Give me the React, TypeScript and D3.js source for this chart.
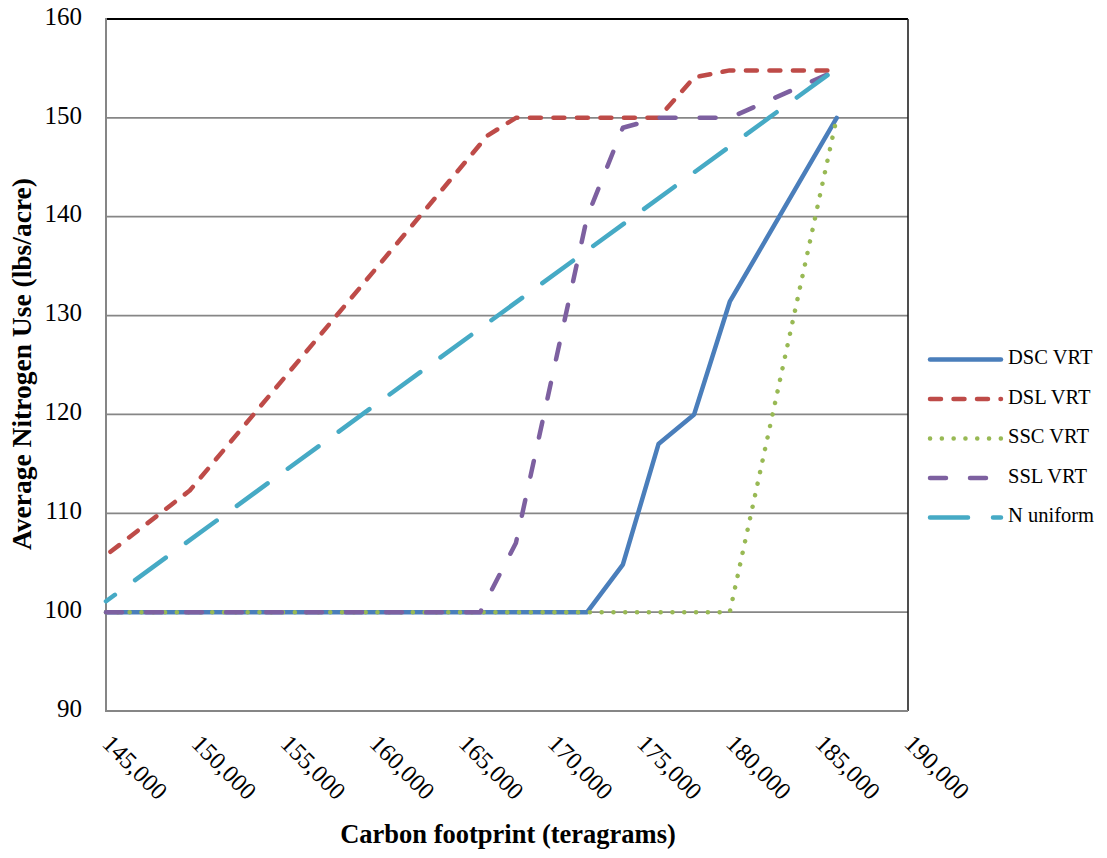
import React from 'react';
import * as d3 from 'd3';

const seriesNames = ['DSC VRT', 'DSL VRT', 'SSC VRT', 'SSL VRT', 'N uniform'];

const dscX = [145000, 172000, 174000, 176000, 178000, 180000, 186000];
const dscY = [100, 100, 104.8, 117, 120, 131.4, 150];

const dslX = [145250, 149700, 166400, 168000, 176000, 178000, 180000, 186000];
const dslY = [106.1, 112.3, 148.2, 150, 150, 154.1, 154.8, 154.8];

const sscX = [145000, 180000, 186000];
const sscY = [100, 100, 150];

const sslX = [145000, 166000, 168000, 172000, 174000, 176000, 180000, 186000];
const sslY = [100, 100, 107, 140, 149, 150, 150, 154.8];

const nuX = [145000, 186000];
const nuY = [101.1, 155];

const xTicks = [145000, 150000, 155000, 160000, 165000, 170000, 175000, 180000, 185000, 190000];
const yTicks = [90, 100, 110, 120, 130, 140, 150, 160];

const colors = ['#4A7EBB', '#BE4B48', '#98B954', '#7D60A0', '#46AAC5'];
const dashes = ['none', '11 12.5', '0.1 11.7', '16 24', '38 25'];
const dashOffsets = [0, 0, 0, 0, 27];

const FONT = "'Liberation Serif', Tinos, 'Times New Roman', Times, 'Nimbus Roman', FreeSerif, 'Noto Serif', 'DejaVu Serif', serif";

export default function App() {
  const W = 1107, H = 858;
  const left = 106, right = 908, top = 19, bottom = 711;
  const x = d3.scaleLinear().domain([145000, 190000]).range([left, right]);
  const y = d3.scaleLinear().domain([90, 160]).range([bottom, top]);
  const line = d3.line<[number, number]>().x(d => x(d[0])).y(d => y(d[1]));
  const series: [number, number][][] = [
    dscX.map((v, i) => [v, dscY[i]]),
    dslX.map((v, i) => [v, dslY[i]]),
    sscX.map((v, i) => [v, sscY[i]]),
    sslX.map((v, i) => [v, sslY[i]]),
    nuX.map((v, i) => [v, nuY[i]]),
  ];
  const fmt = d3.format(',');
  const legY0 = 359.5, legStep = 39.5;

  return (
    <svg width={W} height={H} style={{ position: 'absolute', left: 0, top: 0, background: '#fff', fontFamily: FONT }}>
      <rect x={0} y={0} width={W} height={H} fill="#fff" />
      {yTicks.filter(t => t !== 90 && t !== 160).map(t => (
        <line key={t} x1={left} x2={right} y1={y(t)} y2={y(t)} stroke="#868686" strokeWidth={1.8} />
      ))}
      <line x1={left} x2={right} y1={top} y2={top} stroke="#000" strokeWidth={2} />
      <line x1={right} x2={right} y1={top} y2={bottom} stroke="#222" strokeWidth={1.6} />
      <line x1={left} x2={left} y1={top - 1} y2={bottom + 1} stroke="#868686" strokeWidth={2} />
      <line x1={left} x2={right} y1={bottom} y2={bottom} stroke="#868686" strokeWidth={2} />

      {series.map((s, i) => (
        <path key={i} d={line(s) || ''} fill="none" stroke={colors[i]} strokeWidth={4.5}
          strokeDasharray={dashes[i]} strokeDashoffset={dashOffsets[i]} strokeLinecap="round" strokeLinejoin="round" />
      ))}

      {yTicks.map(t => (
        <text key={t} x={82} y={y(t)} textAnchor="end" dominantBaseline="middle" fontSize={25} fill="#000" style={{ fontFamily: FONT }}>{t}</text>
      ))}
      {xTicks.map(t => (
        <text key={t} transform={`translate(${x(t) - 1},741) rotate(45)`} dominantBaseline="middle" fontSize={24.5} fill="#000" style={{ fontFamily: FONT }}>{fmt(t)}</text>
      ))}

      <text x={508} y={843} textAnchor="middle" fontSize={26.5} fontWeight="bold" fill="#000" style={{ fontFamily: FONT }}>Carbon footprint (teragrams)</text>
      <text transform={`translate(31,364) rotate(-90)`} textAnchor="middle" fontSize={27.5} fontWeight="bold" fill="#000" style={{ fontFamily: FONT }}>Average Nitrogen Use (lbs/acre)</text>

      {seriesNames.map((n, i) => (
        <g key={n}>
          <line x1={930} x2={1001} y1={legY0 + i * legStep} y2={legY0 + i * legStep} stroke={colors[i]} strokeWidth={4.5}
            strokeDasharray={dashes[i]} strokeLinecap="round" />
          <text x={1008} y={legY0 + i * legStep} dominantBaseline="middle" fontSize={20.5} fill="#000" style={{ fontFamily: FONT }}>{n}</text>
        </g>
      ))}
    </svg>
  );
}
